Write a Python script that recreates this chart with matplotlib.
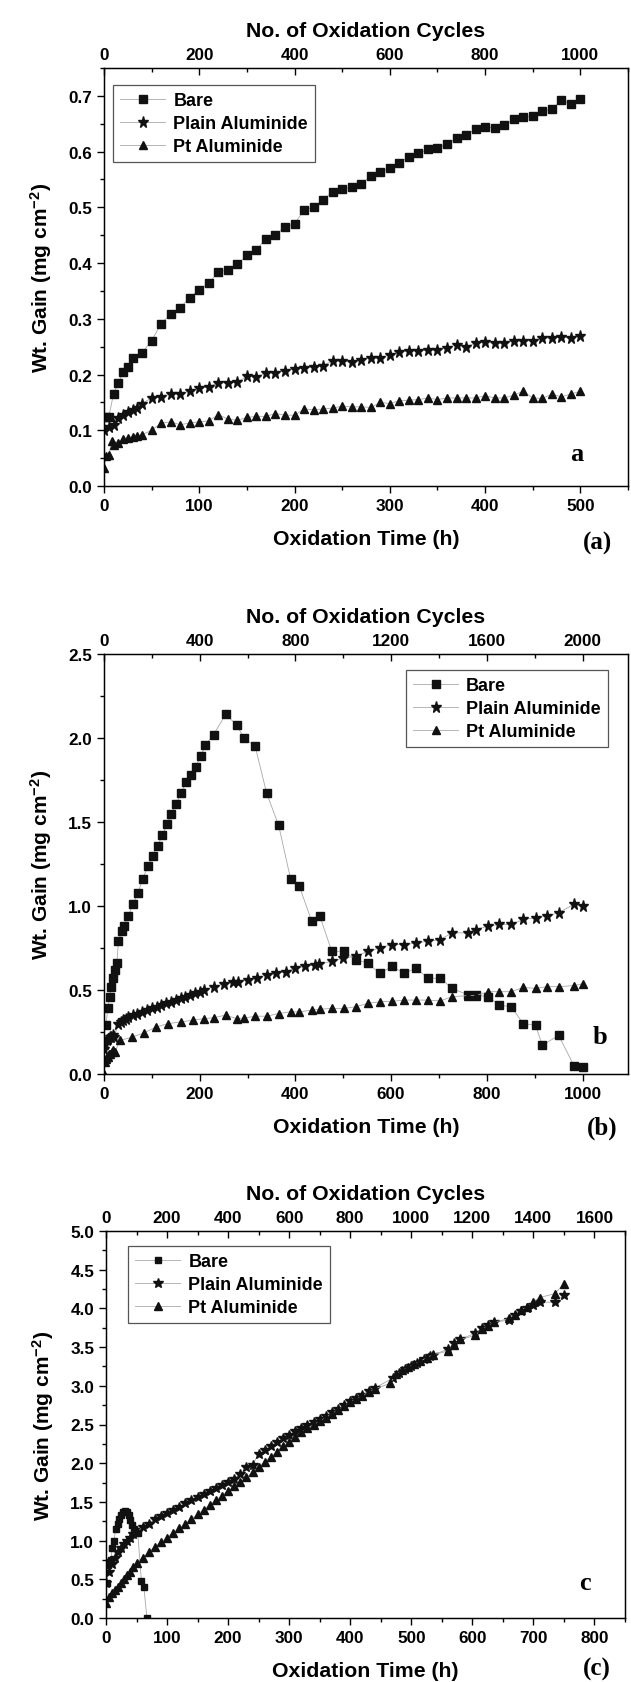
import numpy as np
import matplotlib
matplotlib.use('Agg')
import matplotlib.pyplot as plt
from matplotlib.ticker import MultipleLocator

# ---------------- panel (a) : 500 h ----------------
a_bare_t = [2.5, 5, 10, 15, 20, 25, 30, 40, 50, 60, 70, 80, 90, 100, 110, 120, 130, 140, 150,
            160, 170, 180, 190, 200, 210, 220, 230, 240, 250, 260, 270, 280, 290, 300, 310,
            320, 330, 340, 350, 360, 370, 380, 390, 400, 410, 420, 430, 440, 450, 460, 470,
            480, 490, 500]
a_bare = [0.123, 0.124, 0.165, 0.185, 0.204, 0.213, 0.229, 0.239, 0.261, 0.291, 0.309, 0.32,
          0.338, 0.352, 0.364, 0.384, 0.388, 0.398, 0.414, 0.424, 0.444, 0.45, 0.465, 0.47,
          0.496, 0.5, 0.514, 0.528, 0.532, 0.537, 0.542, 0.556, 0.564, 0.57, 0.58, 0.591,
          0.597, 0.604, 0.606, 0.614, 0.624, 0.63, 0.64, 0.645, 0.642, 0.647, 0.658, 0.662,
          0.663, 0.672, 0.677, 0.692, 0.686, 0.694]
a_plain_t = [0, 5, 10, 15, 20, 25, 30, 35, 40, 50, 60, 70, 80, 90, 100, 110, 120, 130, 140,
             150, 160, 170, 180, 190, 200, 210, 220, 230, 240, 250, 260, 270, 280, 290, 300,
             310, 320, 330, 340, 350, 360, 370, 380, 390, 400, 410, 420, 430, 440, 450, 460,
             470, 480, 490, 500]
a_plain = [0.1, 0.105, 0.11, 0.122, 0.128, 0.133, 0.137, 0.14, 0.148, 0.158, 0.16, 0.165,
           0.165, 0.17, 0.175, 0.178, 0.185, 0.185, 0.186, 0.197, 0.195, 0.203, 0.203, 0.207,
           0.21, 0.212, 0.214, 0.216, 0.225, 0.224, 0.222, 0.226, 0.23, 0.23, 0.235, 0.24,
           0.243, 0.243, 0.244, 0.244, 0.248, 0.253, 0.25, 0.256, 0.258, 0.256, 0.256, 0.26,
           0.261, 0.26, 0.265, 0.266, 0.267, 0.266, 0.27]
a_pt_t = [0, 2, 5, 8, 10, 15, 20, 25, 30, 35, 40, 50, 60, 70, 80, 90, 100, 110, 120, 130, 140,
          150, 160, 170, 180, 190, 200, 210, 220, 230, 240, 250, 260, 270, 280, 290, 300, 310,
          320, 330, 340, 350, 360, 370, 380, 390, 400, 410, 420, 430, 440, 450, 460, 470, 480,
          490, 500]
a_pt = [0.033, 0.053, 0.055, 0.08, 0.073, 0.078, 0.085, 0.087, 0.088, 0.089, 0.092, 0.1,
        0.113, 0.115, 0.11, 0.113, 0.115, 0.117, 0.128, 0.12, 0.118, 0.123, 0.125, 0.125,
        0.13, 0.127, 0.127, 0.138, 0.137, 0.138, 0.14, 0.143, 0.142, 0.142, 0.141, 0.15,
        0.148, 0.153, 0.154, 0.155, 0.158, 0.155, 0.158, 0.158, 0.158, 0.158, 0.162, 0.158,
        0.158, 0.163, 0.17, 0.158, 0.157, 0.165, 0.16, 0.165, 0.17]

# ---------------- panel (b) : 1000 h ----------------
b_bare_t = [4, 8, 12, 15, 19, 23, 27, 30, 37, 42, 50, 61, 71, 81, 92, 102, 112, 122, 132, 141,
            151, 161, 171, 182, 192, 202, 212, 229, 254, 277, 292, 316, 340, 365, 390, 408,
            434, 451, 476, 501, 526, 551, 576, 602, 627, 652, 677, 703, 727, 761, 777, 803,
            826, 851, 876, 902, 916, 950, 982, 1000]
b_bare = [0.29, 0.39, 0.46, 0.52, 0.57, 0.62, 0.66, 0.79, 0.85, 0.88, 0.94, 1.01, 1.08, 1.16,
          1.24, 1.3, 1.36, 1.42, 1.49, 1.55, 1.61, 1.67, 1.74, 1.78, 1.83, 1.89, 1.96, 2.02,
          2.14, 2.08, 2.0, 1.95, 1.67, 1.48, 1.16, 1.12, 0.91, 0.94, 0.73, 0.73, 0.68, 0.66,
          0.6, 0.64, 0.6, 0.63, 0.57, 0.57, 0.51, 0.47, 0.47, 0.46, 0.41, 0.4, 0.3, 0.29,
          0.17, 0.23, 0.05, 0.04]
b_plain_t = [0, 3, 6, 9, 12, 15, 18, 21, 30, 35, 40, 45, 50, 60, 70, 80, 90, 100, 110, 120,
             130, 140, 150, 160, 170, 180, 190, 200, 210, 230, 250, 270, 280, 300, 320, 340,
             360, 380, 400, 420, 440, 450, 476, 500, 526, 551, 576, 602, 627, 652, 677, 703,
             727, 761, 777, 803, 826, 851, 876, 902, 926, 950, 982, 1000]
b_plain = [0.15, 0.18, 0.2, 0.21, 0.22, 0.22, 0.23, 0.22, 0.3, 0.31, 0.32, 0.33, 0.34, 0.35,
           0.36, 0.37, 0.38, 0.39, 0.4, 0.41, 0.42, 0.43, 0.44, 0.45, 0.46, 0.47, 0.48, 0.49,
           0.5, 0.52, 0.535, 0.545, 0.55, 0.56, 0.57, 0.59, 0.6, 0.61, 0.63, 0.64, 0.65, 0.655,
           0.67, 0.69, 0.7, 0.73, 0.75, 0.77, 0.77, 0.78, 0.79, 0.8, 0.84, 0.84, 0.86, 0.88,
           0.89, 0.89, 0.92, 0.93, 0.94, 0.96, 1.01, 1.0]
b_pt_t = [0, 2, 4, 6, 8, 10, 13, 16, 19, 22, 34, 59, 84, 109, 134, 160, 185, 210, 229, 254,
          277, 292, 316, 340, 365, 390, 408, 434, 451, 476, 501, 526, 551, 576, 602, 627, 652,
          677, 703, 727, 761, 777, 803, 826, 851, 876, 902, 926, 950, 982, 1000]
b_pt = [0.0, 0.07, 0.09, 0.1, 0.1, 0.12, 0.12, 0.13, 0.14, 0.13, 0.2, 0.22, 0.245, 0.28, 0.3,
        0.31, 0.32, 0.33, 0.335, 0.35, 0.33, 0.333, 0.344, 0.344, 0.36, 0.37, 0.37, 0.38,
        0.386, 0.39, 0.39, 0.4, 0.42, 0.43, 0.433, 0.44, 0.44, 0.44, 0.435, 0.46, 0.467,
        0.467, 0.49, 0.49, 0.49, 0.515, 0.51, 0.52, 0.52, 0.526, 0.537]

# ---------------- panel (c) : 750 h ----------------
c_bare_t = [1, 3, 5, 8, 10, 13, 16, 19, 22, 25, 28, 31, 34, 37, 40, 43, 46, 49, 52, 58, 62, 67]
c_bare = [0.45, 0.68, 0.72, 0.75, 0.9, 1.0, 1.15, 1.22, 1.28, 1.33, 1.37, 1.38, 1.37, 1.33,
          1.27, 1.2, 1.15, 1.12, 1.1, 0.48, 0.4, 0.0]
c_plain_t = [0, 5, 10, 15, 20, 25, 30, 35, 40, 45, 50, 60, 70, 80, 90, 100, 110, 120, 130, 140,
             150, 160, 170, 180, 190, 200, 210, 220, 230, 240, 250, 260, 270, 280, 290, 300,
             310, 320, 330, 340, 350, 360, 370, 380, 390, 400, 410, 420, 430, 440, 470, 480,
             490, 500, 510, 520, 530, 535, 560, 570, 580, 605, 615, 625, 635, 660, 670, 680,
             690, 700, 710, 735, 750]
c_plain = [0.45, 0.6, 0.7, 0.78, 0.85, 0.9, 0.95, 1.0, 1.04, 1.08, 1.11, 1.17, 1.22, 1.28,
           1.32, 1.36, 1.4, 1.44, 1.48, 1.52, 1.56, 1.6, 1.64, 1.68, 1.72, 1.76, 1.8, 1.86,
           1.95, 1.98, 2.12, 2.17, 2.22, 2.27, 2.32, 2.37, 2.41, 2.45, 2.5, 2.53, 2.57, 2.61,
           2.66, 2.7, 2.75, 2.8, 2.84, 2.88, 2.93, 2.97, 3.1, 3.17, 3.22, 3.26, 3.3, 3.34,
           3.38, 3.4, 3.47, 3.55, 3.6, 3.68, 3.75, 3.78, 3.82, 3.85, 3.92, 3.97, 4.0, 4.04,
           4.08, 4.08, 4.17]
c_pt_t = [0, 5, 10, 15, 20, 25, 30, 35, 40, 45, 50, 60, 70, 80, 90, 100, 110, 120, 130, 140,
          150, 160, 170, 180, 190, 200, 210, 220, 230, 240, 250, 260, 270, 280, 290, 300, 310,
          320, 330, 340, 350, 360, 370, 380, 390, 400, 410, 420, 430, 440, 465, 475, 485, 495,
          505, 515, 525, 535, 560, 570, 580, 605, 615, 625, 635, 660, 670, 680, 690, 700, 710,
          735, 750]
c_pt = [0.2, 0.27, 0.32, 0.36, 0.4, 0.45, 0.5, 0.55, 0.6, 0.66, 0.71, 0.78, 0.85, 0.92, 0.98,
        1.04, 1.1, 1.16, 1.22, 1.28, 1.34, 1.4, 1.46, 1.52, 1.58, 1.64, 1.7, 1.76, 1.82, 1.88,
        1.95, 2.02, 2.08, 2.15, 2.22, 2.28, 2.34, 2.4, 2.45, 2.5, 2.54, 2.59, 2.64, 2.69, 2.74,
        2.79, 2.83, 2.87, 2.92, 2.96, 3.03, 3.15, 3.2, 3.24, 3.28, 3.32, 3.36, 3.4, 3.45,
        3.53, 3.6, 3.65, 3.73, 3.77, 3.82, 3.87, 3.92, 3.98, 4.02, 4.08, 4.14, 4.19, 4.32]

labels = ['Bare', 'Plain Aluminide', 'Pt Aluminide']

plt.rcParams['font.family'] = ['Liberation Sans', 'DejaVu Sans']
plt.rcParams['mathtext.default'] = 'regular'
W, H = 631, 1683
fig = plt.figure(figsize=(W / 100, H / 100), dpi=100)


def px_axes(l, r, t, b):
    return fig.add_axes([l / W, 1 - b / H, (r - l) / W, (b - t) / H])


def panel(ax, series, xmax, ymax, xmaj, xmin, ymaj, ymin, tmaj, tmin, ms,
          leg_loc, leg_corner, letter, letter_xy, tag, tag_xy):
    styles = [dict(marker='s', ms=ms), dict(marker='*', ms=ms + 2.6), dict(marker='^', ms=ms + 0.9)]
    for (t, v), st, lab in zip(series, styles, labels):
        ax.plot(t, v, color='#a8a8a8', lw=0.6, mfc='#111111', mec='#111111', label=lab, **st)
    ax.set_xlim(0, xmax)
    ax.set_ylim(0, ymax)
    ax.xaxis.set_major_locator(MultipleLocator(xmaj))
    ax.xaxis.set_minor_locator(MultipleLocator(xmin))
    ax.yaxis.set_major_locator(MultipleLocator(ymaj))
    ax.yaxis.set_minor_locator(MultipleLocator(ymin))
    ax.tick_params(which='both', direction='out', top=False, right=False, width=1.0,
                   labelsize=12.3, pad=3.5)
    ax.tick_params(which='major', length=5)
    ax.tick_params(which='minor', length=3)
    for lb in ax.get_xticklabels() + ax.get_yticklabels():
        lb.set_fontweight('bold')
    for s in ax.spines.values():
        s.set_linewidth(1.0)
    ax.set_xlabel('Oxidation Time (h)', fontsize=15.3, fontweight='bold', labelpad=12)
    ax.set_ylabel('Wt. Gain (mg cm$^{-2}$)', fontsize=15, fontweight='semibold', labelpad=10)

    top = ax.twiny()
    top.set_xlim(0, 2 * xmax)
    top.xaxis.set_major_locator(MultipleLocator(tmaj))
    top.xaxis.set_minor_locator(MultipleLocator(tmin))
    top.tick_params(which='both', direction='in', width=1.0, labelsize=12.3, pad=4)
    top.tick_params(which='major', length=5)
    top.tick_params(which='minor', length=3)
    for lb in top.get_xticklabels():
        lb.set_fontweight('bold')
    top.set_xlabel('No. of Oxidation Cycles', fontsize=15.3, fontweight='bold', labelpad=8)

    leg = ax.legend(loc=leg_corner, bbox_to_anchor=leg_loc, borderaxespad=0,
                    fancybox=False, edgecolor='#555555', framealpha=1,
                    prop=dict(family='Liberation Sans', weight='bold', size=13),
                    handlelength=2.5, handletextpad=0.45, labelspacing=0.33,
                    borderpad=0.4)
    leg.get_frame().set_linewidth(0.9)
    ax.text(letter_xy[0], letter_xy[1], letter, transform=ax.transAxes, ha='center',
            va='center', fontsize=19, fontweight='bold', family='Liberation Serif')
    fig.text(tag_xy[0] / W, 1 - tag_xy[1] / H, tag, ha='center', va='center', fontsize=18,
             fontweight='bold', family='Liberation Serif')


ax_a = px_axes(104, 628, 69, 487)
panel(ax_a, [(a_bare_t, a_bare), (a_plain_t, a_plain), (a_pt_t, a_pt)],
      550, 0.75, 100, 50, 0.1, 0.05, 200, 100, 5.5,
      (0.017, 0.959), 'upper left', 'a', (0.903, 0.077), '(a)', (598, 543))

ax_b = px_axes(104, 628, 655, 1075)
panel(ax_b, [(b_bare_t, b_bare), (b_plain_t, b_plain), (b_pt_t, b_pt)],
      1095, 2.5, 200, 100, 0.5, 0.25, 400, 200, 5.5,
      (0.962, 0.962), 'upper right', 'b', (0.947, 0.09), '(b)', (602, 1128))

ax_c = px_axes(106, 625, 1232, 1619)
panel(ax_c, [(c_bare_t, c_bare), (c_plain_t, c_plain), (c_pt_t, c_pt)],
      850, 5.0, 100, 50, 0.5, 0.25, 200, 100, 5.0,
      (0.042, 0.961), 'upper left', 'c', (0.923, 0.093), '(c)', (597, 1669))

fig.savefig('out.png', dpi=100)
